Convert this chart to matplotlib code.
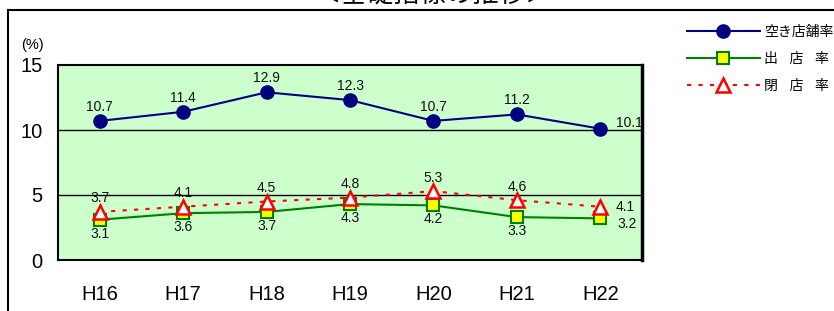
import numpy as np
import matplotlib
matplotlib.use("Agg")
import matplotlib.pyplot as plt
from matplotlib.lines import Line2D

plt.rcParams['font.family'] = ['Liberation Sans', 'Noto Sans CJK JP', 'DejaVu Sans']

## data
years = ['H16', 'H17', 'H18', 'H19', 'H20', 'H21', 'H22']
vacancy = [10.7, 11.4, 12.9, 12.3, 10.7, 11.2, 10.1]   # 空き店舗率
opening = [3.1, 3.6, 3.7, 4.3, 4.2, 3.3, 3.2]          # 出店率
closing = [3.7, 4.1, 4.5, 4.8, 5.3, 4.6, 4.1]          # 閉店率
labels = ['空き店舗率', '出   店   率', '閉   店   率']

px = 0.72  # points per pixel at dpi 100

fig = plt.figure(figsize=(8.34, 3.11), dpi=100)
ax = fig.add_axes([58/834, 51/311, 584/834, 195/311])
ax.set_facecolor('#CCFFCC')

x = np.arange(len(years))

l1, = ax.plot(x, vacancy, color='#000080', lw=1.5, marker='o', ms=9.5,
              mfc='#000080', mec='#000080', zorder=4)
l2, = ax.plot(x, opening, color='#008000', lw=1.5, marker='s', ms=8,
              mfc='#FFFF00', mec='#008000', mew=1.5, zorder=4)
l3, = ax.plot(x, closing, color='#FF0000', lw=1.5, ls=(0, (2, 3.5)),
              marker='^', ms=10, mfc='white', mec='#FF0000', mew=1.8, zorder=5)

# data labels
lbl = dict(textcoords='offset points', ha='center', va='center',
           fontsize=10, color='#111111')
for i, v in enumerate(vacancy):
    off = (29*px, 6*px) if i == len(vacancy) - 1 else (0, 14*px)
    ax.annotate(f'{v}', (x[i], v), xytext=off, **lbl)
for i, v in enumerate(opening):
    off = (27*px, -6*px) if i == len(opening) - 1 else (0, -14*px)
    ax.annotate(f'{v}', (x[i], v), xytext=off, **lbl)
for i, v in enumerate(closing):
    off = (25*px, 0) if i == len(closing) - 1 else (0, 13.5*px)
    ax.annotate(f'{v}', (x[i], v), xytext=off, **lbl)

ax.set_xlim(-0.5, len(years) - 0.5)
ax.set_ylim(0, 15)
ax.set_yticks([0, 5, 10, 15])
ax.set_xticks(x)
ax.set_xticklabels(years)
ax.tick_params(axis='both', length=0, labelsize=14.5)
ax.tick_params(axis='y', pad=11)
ax.tick_params(axis='x', pad=18)
for yv in [5, 10]:
    ax.axhline(yv, color='black', lw=1, zorder=1)
for s in ax.spines.values():
    s.set_linewidth(1.5)
    s.set_color('black')
ax.spines['right'].set_linewidth(2.5)

fig.text(32/834, 1 - 45/311, '(%)', ha='center', va='center', fontsize=10.5)

# legend
fig.legend([l1, l2, l3], labels, loc='upper left',
           bbox_to_anchor=(681/834, 1 - 19/311), frameon=False,
           fontsize=10, handlelength=5.3, handletextpad=0.3,
           labelspacing=0.95, borderaxespad=0)

# title (cut off at top) and frame lines
fig.text(433/834, 1 - 3/311, '＜基礎指標の推移＞', ha='center', va='baseline', fontsize=19)
fig.add_artist(Line2D([8/834, 1], [1 - 9.5/311, 1 - 9.5/311], color='black', lw=1.5,
                      transform=fig.transFigure))
fig.add_artist(Line2D([8/834, 8/834], [0, 1 - 9.5/311], color='black', lw=1.5,
                      transform=fig.transFigure))

fig.savefig('out.png', dpi=100)
